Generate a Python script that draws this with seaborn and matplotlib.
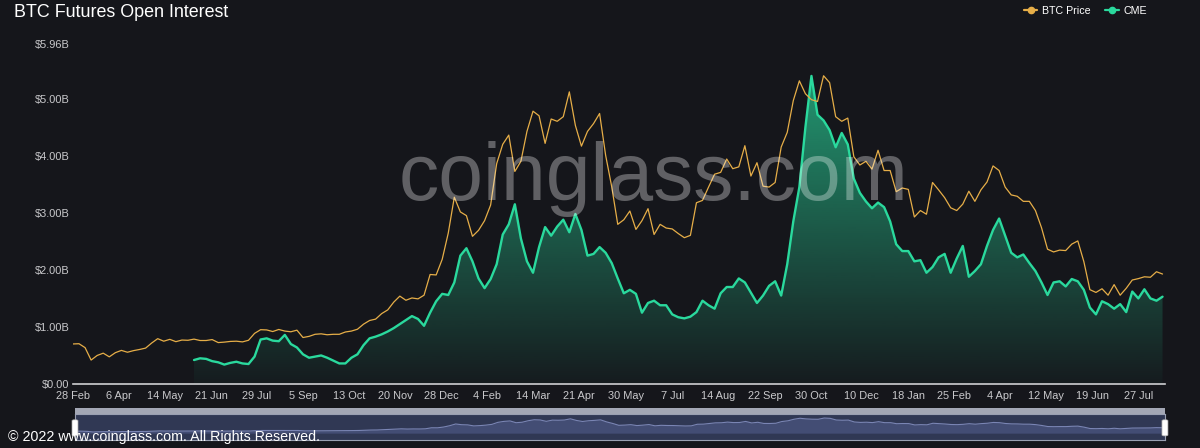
import matplotlib
matplotlib.use("Agg")
import matplotlib.pyplot as plt
import matplotlib.dates as mdates
from matplotlib.lines import Line2D
from matplotlib.patches import FancyBboxPatch, Rectangle
import seaborn as sns
import numpy as np
import pandas as pd

BG = "#15161b"
ORANGE = "#e6ae48"
GREEN = "#2ad99d"

# data: one sample every 5 days
price_start = "2020-02-28"
cme_start = "2020-06-07"

btc_price_k = [
    8.7, 8.75, 7.9, 5.2, 6.2, 6.7, 5.9, 6.8, 7.3, 6.9, 7.25, 7.5, 7.8, 8.9, 9.85, 9.3,
    9.7, 9.2, 9.55, 9.5, 9.75, 9.45, 9.45, 9.65, 9.0, 9.1, 9.25, 9.3, 9.15, 9.5, 11.0,
    11.8, 11.75, 11.4, 11.85, 11.5, 11.35, 11.7, 10.1, 10.35, 10.8, 10.9, 10.7, 10.8,
    10.8, 11.3, 11.5, 11.9, 13.0, 13.8, 14.1, 15.3, 16.1, 17.8, 19.1, 18.2, 18.7, 18.5,
    19.3, 23.8, 23.7, 27.1, 32.8, 40.6, 37.4, 36.6, 32.1, 33.4, 35.5, 38.9, 47.9, 52.1,
    54.1, 46.2, 48.4, 54.9, 59.3, 58.3, 52.3, 57.6, 57.1, 58.1, 63.5, 56.2, 51.7, 54.9,
    56.6, 58.8, 49.7, 42.9, 34.7, 35.7, 37.6, 33.6, 35.5, 38.1, 32.5, 34.7, 33.9, 33.7,
    32.7, 31.8, 32.3, 39.4, 39.9, 42.8, 45.6, 46.0, 48.9, 46.8, 47.2, 51.8, 45.2, 48.1,
    43.0, 42.8, 43.8, 51.5, 54.7, 61.6, 65.9, 63.1, 61.8, 61.4, 67.0, 65.5, 58.1, 57.1,
    57.8, 49.4, 47.6, 48.4, 46.7, 50.8, 46.4, 46.4, 41.8, 42.6, 42.3, 36.3, 37.7, 36.9,
    43.8, 42.2, 40.5, 38.3, 37.7, 39.1, 41.9, 39.7, 42.2, 43.9, 47.4, 46.4, 42.8, 41.1,
    40.8, 39.7, 39.7, 37.7, 34.0, 29.3, 28.7, 29.1, 29.0, 30.4, 31.1, 26.6, 20.5, 19.9,
    20.7, 19.3, 21.6, 19.3, 20.8, 22.6, 22.9, 23.3, 23.2, 24.4, 23.9,
]

cme_oi_b = [
    0.42, 0.45, 0.44, 0.40, 0.38, 0.34, 0.37, 0.39, 0.36, 0.35, 0.48, 0.78, 0.80, 0.76,
    0.75, 0.86, 0.70, 0.64, 0.52, 0.46, 0.48, 0.50, 0.46, 0.41, 0.36, 0.36, 0.46, 0.52,
    0.68, 0.80, 0.83, 0.87, 0.92, 0.98, 1.05, 1.12, 1.19, 1.14, 1.02, 1.25, 1.45, 1.58,
    1.56, 1.78, 2.25, 2.38, 2.15, 1.85, 1.68, 1.84, 2.10, 2.62, 2.80, 3.15, 2.55, 2.15,
    1.95, 2.40, 2.75, 2.60, 2.76, 2.88, 2.66, 2.98, 2.70, 2.25, 2.28, 2.40, 2.30, 2.12,
    1.85, 1.59, 1.65, 1.58, 1.25, 1.42, 1.46, 1.38, 1.38, 1.22, 1.17, 1.15, 1.18, 1.26,
    1.46, 1.38, 1.32, 1.59, 1.70, 1.70, 1.85, 1.78, 1.60, 1.42, 1.55, 1.72, 1.80, 1.55,
    2.10, 2.85, 3.45, 4.50, 5.40, 4.72, 4.62, 4.45, 4.15, 4.40, 4.20, 3.60, 3.35, 3.20,
    3.08, 3.18, 3.10, 2.85, 2.45, 2.33, 2.33, 2.15, 2.17, 1.95, 2.05, 2.22, 2.28, 1.95,
    2.20, 2.42, 1.88, 1.98, 2.10, 2.42, 2.70, 2.90, 2.60, 2.30, 2.22, 2.27, 2.12, 1.98,
    1.78, 1.56, 1.78, 1.80, 1.71, 1.84, 1.80, 1.65, 1.34, 1.22, 1.45, 1.40, 1.32, 1.40,
    1.26, 1.62, 1.50, 1.66, 1.50, 1.46, 1.53,
]

tick_dates = [
    "2020-02-28", "2020-04-06", "2020-05-14", "2020-06-21", "2020-07-29", "2020-09-05",
    "2020-10-13", "2020-11-20", "2020-12-28", "2021-02-04", "2021-03-14", "2021-04-21",
    "2021-05-30", "2021-07-07", "2021-08-14", "2021-09-22", "2021-10-30", "2021-12-10",
    "2022-01-18", "2022-02-25", "2022-04-04", "2022-05-12", "2022-06-19", "2022-07-27",
]
tick_labels = [
    "28 Feb", "6 Apr", "14 May", "21 Jun", "29 Jul", "5 Sep", "13 Oct", "20 Nov", "28 Dec",
    "4 Feb", "14 Mar", "21 Apr", "30 May", "7 Jul", "14 Aug", "22 Sep", "30 Oct", "10 Dec",
    "18 Jan", "25 Feb", "4 Apr", "12 May", "19 Jun", "27 Jul",
]
y_ticks = [0, 1, 2, 3, 4, 5, 5.96]
y_labels = ["$0.00", "$1.00B", "$2.00B", "$3.00B", "$4.00B", "$5.00B", "$5.96B"]

price_df = pd.DataFrame({
    "date": pd.date_range(price_start, periods=len(btc_price_k), freq="5D"),
    "price": btc_price_k,
})
cme_df = pd.DataFrame({
    "date": pd.date_range(cme_start, periods=len(cme_oi_b), freq="5D"),
    "oi": cme_oi_b,
})

sns.set_theme(style="dark")
plt.rcParams["font.family"] = ["Liberation Sans", "DejaVu Sans"]

fig = plt.figure(figsize=(12, 4.48), dpi=100, facecolor=BG)
ax = fig.add_axes([0.0608, 0.1429, 0.91, 0.7589], facecolor=BG)

x0 = pd.Timestamp(price_start)
x1 = x0 + pd.Timedelta(days=902)

# green area with vertical gradient
ymax_oi = max(cme_oi_b)
poly = ax.fill_between(cme_df["date"], cme_df["oi"], 0, color="none", lw=0)
rgba = np.zeros((256, 1, 4))
rgba[:, 0, :3] = matplotlib.colors.to_rgb(GREEN)
rgba[:, 0, 3] = np.linspace(0.03, 0.66, 256)
xs = mdates.date2num([cme_df["date"].iloc[0], cme_df["date"].iloc[-1]])
im = ax.imshow(rgba, extent=[xs[0], xs[1], 0, ymax_oi], origin="lower",
               aspect="auto", zorder=1)
im.set_clip_path(poly.get_paths()[0], ax.transData)
sns.lineplot(data=cme_df, x="date", y="oi", ax=ax, color=GREEN, linewidth=1.7, zorder=3)

ax.set_xlim(x0, x1)
ax.set_ylim(0, 5.96)
ax.set_yticks(y_ticks)
ax.set_yticklabels(y_labels)
ax.set_xticks(pd.to_datetime(tick_dates))
ax.set_xticklabels(tick_labels)
ax.tick_params(axis="both", length=0, colors="#c9c9cc", labelsize=7.9)
ax.tick_params(axis="x", pad=5)
ax.tick_params(axis="y", pad=2.5)
ax.set_xlabel(""); ax.set_ylabel("")
ax.grid(False)
for s in ["top", "right", "left"]:
    ax.spines[s].set_visible(False)
ax.spines["bottom"].set_color("#cfcfd2")
ax.spines["bottom"].set_linewidth(1.2)

# price on hidden right axis
ax2 = ax.twinx()
sns.lineplot(data=price_df, x="date", y="price", ax=ax2, color=ORANGE, linewidth=0.9)
ax2.set_ylim(0, 5.96 * 12.4)
ax2.set_xlim(x0, x1)
ax2.set_yticks([])
ax2.set_ylabel(""); ax2.set_xlabel("")
ax2.grid(False)
for s in ax2.spines.values():
    s.set_visible(False)

# title, legend, watermark
fig.text(0.012, 0.973, "BTC Futures Open Interest", color="white", fontsize=12.9,
         ha="left", va="center")
handles = [
    Line2D([], [], color=ORANGE, marker="o", markersize=4.5, linewidth=1.6),
    Line2D([], [], color=GREEN, marker="o", markersize=4.5, linewidth=1.6),
]
fig.legend(handles, ["BTC Price", "CME"], loc="center right", bbox_to_anchor=(0.964, 0.976),
           ncol=2, frameon=False, fontsize=7.7, labelcolor="white", handlelength=1.3,
           handletextpad=0.4, columnspacing=1.4)
fig.text(0.545, 0.6, "coinglass.com", color="white", alpha=0.32, fontsize=58,
         ha="center", va="center", zorder=10)

# range navigator
nav = fig.add_axes([0.0625, 0.018, 0.9083, 0.058], facecolor="#303854")
nav.fill_between(price_df["date"], price_df["price"], 0, color="#434d74", lw=0)
sns.lineplot(data=price_df, x="date", y="price", ax=nav, color="#7a85b4", linewidth=0.8)
nav.set_xlim(x0, x1)
nav.set_ylim(-30, 85)
nav.set_xticks([]); nav.set_yticks([])
nav.set_xlabel(""); nav.set_ylabel("")
for s in nav.spines.values():
    s.set_color("#9aa0b2")
    s.set_linewidth(0.8)
fig.patches.append(Rectangle((0.0625, 0.076), 0.9083, 0.013, transform=fig.transFigure,
                             facecolor="#a3a7b5", edgecolor="none"))
for hx in [0.0625, 0.9708]:
    fig.patches.append(FancyBboxPatch((hx - 0.0025, 0.027), 0.005, 0.036,
                                      boxstyle="round,pad=0.0,rounding_size=0.002",
                                      transform=fig.transFigure, facecolor="white",
                                      edgecolor="#aaaaaa", lw=0.5, zorder=5))
fig.text(0.007, 0.025, "\u00a9 2022 www.coinglass.com. All Rights Reserved.", color="white",
         fontsize=10.3, ha="left", va="center", zorder=10)

fig.savefig("out.png", dpi=100, facecolor=BG)
plt.close(fig)
